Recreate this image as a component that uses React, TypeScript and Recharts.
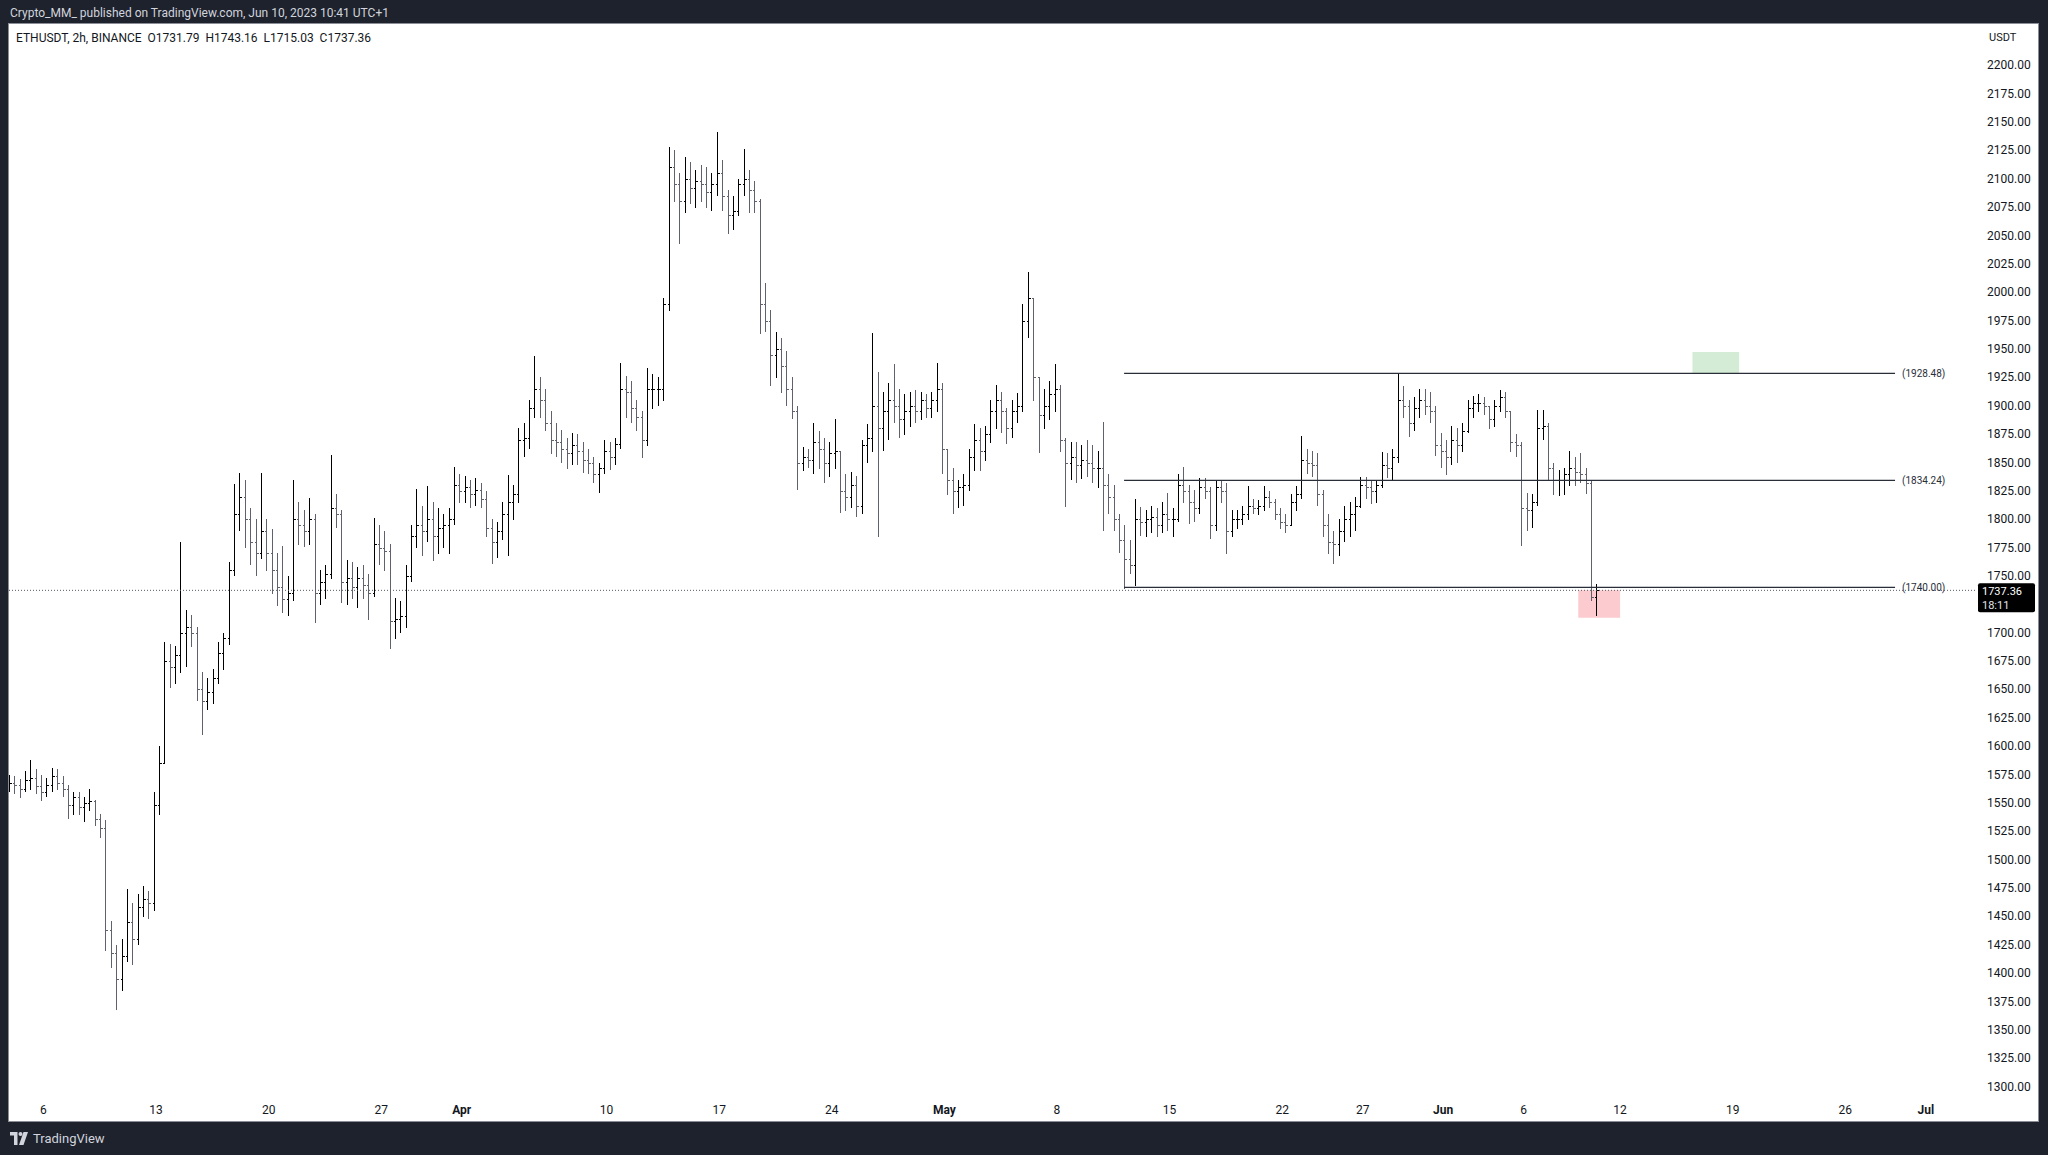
import { ComposedChart, Bar, XAxis, YAxis, ReferenceLine, ReferenceArea } from "recharts"

// ETHUSDT 8h OHLC bars. Day 0 = Mar 6 00:00.
// First bar opens Mar 3 16:00; one row per day (3 bars: 00h, 08h, 16h).
const firstBarDay = -7 / 3
const barDays = 1 / 3
const firstOpen = 1565

const highs = [
  1575, // Mar 3
  1574, 1571, 1578,
  1588, 1580, 1575,
  1572, 1581, 1580, // Mar 6
  1574, 1566, 1560,
  1560, 1555, 1562,
  1553, 1540, 1535,
  1446, 1425, 1430, // Mar 10
  1474, 1462, 1470,
  1477, 1472, 1560,
  1600, 1692, 1690, // Mar 13
  1688, 1780, 1720,
  1716, 1705, 1665,
  1660, 1668, 1692,
  1700, 1762, 1831,
  1841, 1835, 1810,
  1800, 1841, 1800,
  1791, 1770, 1776, // Mar 20
  1750, 1835, 1815,
  1808, 1819, 1805,
  1755, 1760, 1857,
  1822, 1808, 1764,
  1762, 1758, 1760,
  1752, 1801, 1795,
  1790, 1778, 1731, // Mar 27
  1728, 1760, 1795,
  1827, 1812, 1829,
  1815, 1810, 1805,
  1810, 1846, 1840,
  1838, 1835, 1836, // Apr 1
  1832, 1825, 1800,
  1798, 1815, 1839,
  1830, 1880, 1885,
  1905, 1944, 1925,
  1915, 1895, 1885,
  1879, 1872, 1876,
  1875, 1868, 1862,
  1855, 1850, 1870,
  1868, 1872, 1938, // Apr 10
  1926, 1922, 1905,
  1895, 1933, 1928,
  1925, 1995, 2128,
  2125, 2105, 2119,
  2115, 2108, 2112,
  2110, 2105, 2141,
  2117, 2090, 2085, // Apr 17
  2100, 2126, 2108,
  2098, 2082, 2008,
  1984, 1965, 1960,
  1948, 1925, 1900,
  1864, 1862, 1885,
  1878, 1872, 1868,
  1888, 1852, 1840, // Apr 24
  1842, 1838, 1870,
  1884, 1964, 1930,
  1912, 1920, 1937,
  1915, 1910, 1912,
  1914, 1912, 1910,
  1912, 1938, 1920,
  1850, 1845, 1835, // May 1
  1840, 1862, 1884,
  1880, 1882, 1905,
  1918, 1912, 1898,
  1905, 1911, 1990,
  2018, 1995, 1925,
  1915, 1922, 1937,
  1918, 1872, 1868, // May 8
  1868, 1865, 1870,
  1865, 1860, 1886,
  1840, 1830, 1805,
  1795, 1782, 1818,
  1811, 1808, 1812,
  1810, 1815, 1823,
  1810, 1840, 1846, // May 15
  1830, 1826, 1836,
  1836, 1828, 1834,
  1834, 1832, 1808,
  1808, 1812, 1829,
  1818, 1817, 1829,
  1825, 1818, 1810,
  1805, 1822, 1829, // May 22
  1873, 1862, 1860,
  1858, 1826, 1805,
  1790, 1800, 1812,
  1815, 1820, 1837,
  1837, 1835, 1834,
  1859, 1858, 1862,
  1928.48, 1917, 1905, // May 29
  1908, 1915, 1915,
  1912, 1900, 1876,
  1870, 1882, 1880, // Jun 1
  1885, 1905, 1909,
  1910, 1908, 1900,
  1905, 1914, 1912,
  1895, 1875, 1868,
  1823, 1822, 1896,
  1896, 1885, 1850,
  1843, 1845, 1860,
  1855, 1858, 1845,
  1835, 1743.16, // Jun 10
]

const lows = [
  1560,
  1558, 1555, 1560,
  1562, 1558, 1552,
  1556, 1560, 1562,
  1556, 1536, 1540,
  1540, 1534, 1543,
  1530, 1520, 1420,
  1405, 1368, 1385,
  1410, 1408, 1425,
  1450, 1448, 1455,
  1540, 1590, 1652,
  1655, 1665, 1670,
  1688, 1640, 1610,
  1632, 1638, 1655,
  1668, 1690, 1750,
  1790, 1775, 1760,
  1750, 1765, 1755,
  1735, 1724, 1718,
  1715, 1728, 1778,
  1776, 1778, 1709,
  1725, 1730, 1748,
  1793, 1727, 1725,
  1730, 1722, 1730,
  1712, 1732, 1760,
  1755, 1686, 1695,
  1700, 1705, 1745,
  1775, 1768, 1780,
  1764, 1770, 1775,
  1770, 1795, 1815,
  1815, 1810, 1812,
  1810, 1785, 1761,
  1766, 1782, 1768,
  1800, 1815, 1855,
  1862, 1890, 1890,
  1878, 1858, 1855,
  1850, 1845, 1848,
  1848, 1841, 1840,
  1832, 1824, 1840,
  1844, 1848, 1862,
  1890, 1885, 1878,
  1854, 1865, 1898,
  1900, 1905, 1984,
  2080, 2043, 2070,
  2078, 2075, 2080,
  2075, 2072, 2085,
  2072, 2052, 2055,
  2068, 2085, 2070,
  2070, 1964, 1965,
  1918, 1925, 1912,
  1900, 1889, 1826,
  1843, 1846, 1840,
  1845, 1832, 1838,
  1845, 1806, 1808,
  1810, 1802, 1805,
  1850, 1860, 1785,
  1861, 1870, 1885,
  1872, 1875, 1882,
  1885, 1888, 1890,
  1890, 1895, 1840,
  1822, 1805, 1810,
  1812, 1825, 1843,
  1843, 1852, 1868,
  1880, 1876, 1867,
  1872, 1885, 1895,
  1960, 1905, 1859,
  1880, 1888, 1895,
  1860, 1811, 1835,
  1832, 1836, 1838,
  1832, 1828, 1790,
  1805, 1790, 1771,
  1739, 1752, 1742,
  1786, 1785, 1788,
  1785, 1788, 1790,
  1785, 1798, 1815,
  1796, 1798, 1805,
  1818, 1783, 1790,
  1815, 1770, 1785,
  1792, 1795, 1800,
  1805, 1804, 1808,
  1810, 1800, 1792,
  1788, 1795, 1808,
  1818, 1840, 1838,
  1812, 1785, 1770,
  1761, 1768, 1780,
  1785, 1790, 1810,
  1818, 1814, 1815,
  1828, 1837, 1835,
  1850, 1890, 1873,
  1878, 1890, 1892,
  1885, 1856, 1846,
  1839, 1848, 1850,
  1860, 1876, 1890,
  1895, 1892, 1880,
  1882, 1895, 1890,
  1860, 1855, 1777,
  1790, 1793, 1812,
  1870, 1835, 1822,
  1821, 1822, 1830,
  1830, 1832, 1823,
  1728, 1715.03,
]

const closes = [
  1568,
  1566, 1562, 1570,
  1572, 1565, 1560,
  1566, 1574, 1568,
  1562, 1548, 1555,
  1546, 1550, 1552,
  1536, 1528, 1438,
  1418, 1395, 1415,
  1445, 1430, 1458,
  1465, 1462, 1548,
  1585, 1675, 1670,
  1680, 1700, 1705,
  1700, 1650, 1640,
  1648, 1660, 1682,
  1695, 1755, 1805,
  1820, 1800, 1780,
  1770, 1790, 1770,
  1755, 1740, 1730,
  1735, 1800, 1795,
  1790, 1800, 1735,
  1745, 1752, 1810,
  1805, 1745, 1748,
  1740, 1748, 1742,
  1735, 1778, 1775,
  1772, 1710, 1712,
  1715, 1750, 1785,
  1795, 1790, 1800,
  1785, 1792, 1795,
  1800, 1830, 1825,
  1828, 1822, 1826,
  1818, 1792, 1780,
  1790, 1805, 1815,
  1822, 1870, 1872,
  1898, 1915, 1905,
  1885, 1870, 1868,
  1862, 1858, 1865,
  1860, 1852, 1850,
  1840, 1845, 1860,
  1855, 1866, 1915,
  1912, 1898, 1890,
  1870, 1915, 1915,
  1915, 1990, 2110,
  2095, 2080, 2100,
  2092, 2098, 2095,
  2088, 2095, 2105,
  2085, 2068, 2072,
  2095, 2100, 2090,
  2080, 1990, 1975,
  1945, 1950, 1935,
  1915, 1895, 1850,
  1855, 1852, 1868,
  1862, 1850, 1858,
  1860, 1825, 1820,
  1830, 1812, 1865,
  1872, 1900, 1880,
  1895, 1905, 1900,
  1888, 1895, 1900,
  1895, 1905, 1898,
  1905, 1915, 1862,
  1835, 1825, 1828,
  1830, 1855, 1870,
  1860, 1875, 1895,
  1905, 1895, 1880,
  1895, 1900, 1975,
  1995, 1925, 1892,
  1900, 1910, 1915,
  1870, 1850, 1855,
  1848, 1852, 1850,
  1845, 1845, 1830,
  1820, 1800, 1782,
  1765, 1760, 1800,
  1798, 1800, 1802,
  1795, 1805, 1800,
  1800, 1830, 1825,
  1815, 1810, 1828,
  1825, 1795, 1828,
  1825, 1790, 1800,
  1800, 1805, 1812,
  1810, 1812, 1820,
  1815, 1805, 1798,
  1795, 1815, 1822,
  1852, 1850, 1848,
  1822, 1795, 1780,
  1778, 1790, 1800,
  1805, 1812, 1830,
  1828, 1825, 1830,
  1848, 1845, 1855,
  1905, 1900, 1885,
  1898, 1905, 1900,
  1895, 1865, 1860,
  1855, 1870, 1865,
  1878, 1898, 1902,
  1902, 1900, 1888,
  1900, 1908, 1895,
  1868, 1865, 1810,
  1808, 1815, 1880,
  1882, 1845, 1835,
  1835, 1840, 1845,
  1842, 1840, 1832,
  1731.79, 1737.36,
]

// time axis: day offsets from Mar 6 and their labels
const dayTicks = [0, 7, 14, 21, 26, 35, 42, 49, 56, 63, 70, 77, 82, 87, 92, 98, 105, 112, 117]
const dayLabels = ["6", "13", "20", "27", "Apr", "10", "17", "24", "May", "8", "15", "22", "27", "Jun", "6", "12", "19", "26", "Jul"]
const monthLabels = ["Apr", "May", "Jun", "Jul"]

// 1725.00 sits under the last-price tag in the original, so it is not listed
const priceTicks = [
  1300, 1325, 1350, 1375, 1400, 1425, 1450, 1475, 1500, 1525, 1550, 1575,
  1600, 1625, 1650, 1675, 1700, 1750, 1775, 1800, 1825, 1850, 1875,
  1900, 1925, 1950, 1975, 2000, 2025, 2050, 2075, 2100, 2125, 2150, 2175, 2200,
]

// horizontal levels drawn from May 12 to late June
const levels = [1928.48, 1834.24, 1740.0]
const levelStart = 67.17
const levelEnd = 115.09

const lastPrice = 1737.36
const countdown = "18:11"

const targetZone = { x1: 102.5, x2: 105.4, y1: 1928.5, y2: 1947.4 }
const stopZone = { x1: 95.4, x2: 98.0, y1: 1713.2, y2: 1737.5 }

const UP = "#000000"
const DOWN = "#5f626c"
const FONT = "Roboto, 'Liberation Sans', sans-serif"

const bars = closes.map((c, i) => {
  const o = i === 0 ? firstOpen : closes[i - 1]
  const h = Math.max(highs[i], o, c)
  const l = Math.min(lows[i], o, c)
  return { t: firstBarDay + i * barDays + barDays / 2, o, h, l, c, range: [l, h] }
})

function OhlcBar(props: any) {
  const { x, y, width, height, payload } = props
  if (x == null || y == null || !payload) return null
  const top = Math.min(y, y + height)
  const bot = Math.max(y, y + height)
  const span = payload.h - payload.l || 1
  const yOf = (v: number) => Math.round(top + ((payload.h - v) / span) * (bot - top)) + 0.5
  const cx = Math.round(x + width / 2) + 0.5
  const color = payload.c >= payload.o ? UP : DOWN
  return (
    <g stroke={color} strokeWidth={1} shapeRendering="crispEdges">
      <line x1={cx} x2={cx} y1={top} y2={bot + 0.5} />
      <line x1={cx - 2} x2={cx} y1={yOf(payload.o)} y2={yOf(payload.o)} />
      <line x1={cx} x2={cx + 2} y1={yOf(payload.c)} y2={yOf(payload.c)} />
    </g>
  )
}

function TimeTick(props: any) {
  const { x, y, payload } = props
  const label = dayLabels[dayTicks.indexOf(payload.value)]
  return (
    <text x={x} y={y + 13} textAnchor="middle" dominantBaseline="central" fontSize={12} fontFamily={FONT}
      fill="#131722" fontWeight={monthLabels.includes(label) ? 700 : 400}>
      {label}
    </text>
  )
}

function PriceTick(props: any) {
  const { x, y, payload } = props
  return (
    <text x={x + 12} y={y} textAnchor="start" dominantBaseline="central" fontSize={12} fontFamily={FONT} fill="#131722">
      {payload.value.toFixed(2)}
    </text>
  )
}

function LevelLabel(props: any) {
  const { viewBox, value } = props
  if (!viewBox) return null
  return (
    <text x={viewBox.x + viewBox.width + 7} y={viewBox.y} dominantBaseline="central" fontSize={10}
      fontFamily={FONT} fill="#2a2e39">
      {value}
    </text>
  )
}

function PriceTag(props: any) {
  const { viewBox } = props
  if (!viewBox) return null
  const x = viewBox.x + viewBox.width + 3
  const y = viewBox.y
  return (
    <g>
      <rect x={x} y={y - 7} width={57} height={29} rx={2} fill="#000" />
      <text x={x + 4} y={y + 1} dominantBaseline="central" fontSize={11} fontFamily={FONT} fill="#fff">
        {lastPrice.toFixed(2)}
      </text>
      <text x={x + 4} y={y + 15} dominantBaseline="central" fontSize={11} fontFamily={FONT} fill="#e0e3eb">
        {countdown}
      </text>
    </g>
  )
}

function Logo() {
  return (
    <svg width={18} height={13} viewBox="0 0 36 26">
      <path d="M0 0H15V26H8V7H0Z" fill="#d1d4dc" />
      <circle cx={21} cy={4} r={4} fill="#d1d4dc" />
      <path d="M27 0H36L27 26H18Z" fill="#d1d4dc" />
    </svg>
  )
}

export default function App() {
  return (
    <div style={{ position: "absolute", left: 0, top: 0, width: 2048, height: 1155, background: "#1e222d",
      overflow: "hidden", fontFamily: FONT }}>
      <div style={{ position: "absolute", left: 10, top: 5, fontSize: 12, lineHeight: "16px", color: "#d1d4dc" }}>
        Crypto_MM_ published on TradingView.com, Jun 10, 2023 10:41 UTC+1
      </div>

      <div style={{ position: "absolute", left: 9, top: 24, width: 2029, height: 1097, background: "#fff",
        boxShadow: "0 0 0 1px #8b8e97" }}>
        <ComposedChart width={2029} height={1097} data={bars} margin={{ top: 0, right: 0, bottom: 0, left: 0 }}>
          <XAxis dataKey="t" type="number" domain={[-2.14, 120.06]} allowDataOverflow ticks={dayTicks}
            interval={0} height={24} axisLine={false} tickLine={false} tickSize={0} tickMargin={0}
            tick={<TimeTick />} />
          <YAxis orientation="right" width={63} domain={[1290.9, 2236.4]} allowDataOverflow ticks={priceTicks}
            interval={0} axisLine={false} tickLine={false} tickSize={0} tickMargin={0} tick={<PriceTick />} />
          <ReferenceArea x1={targetZone.x1} x2={targetZone.x2} y1={targetZone.y1} y2={targetZone.y2}
            fill="#4caf50" fillOpacity={0.24} stroke="none" />
          <ReferenceArea x1={stopZone.x1} x2={stopZone.x2} y1={stopZone.y1} y2={stopZone.y2}
            fill="#f23645" fillOpacity={0.26} stroke="none" />
          {levels.map((lv) => (
            <ReferenceLine key={lv} segment={[{ x: levelStart, y: lv }, { x: levelEnd, y: lv }]}
              stroke="#2a2e39" strokeWidth={1.2}
              label={<LevelLabel value={`(${lv.toFixed(2)})`} />} />
          ))}
          <ReferenceLine y={lastPrice} stroke="#555862" strokeDasharray="1 2" strokeWidth={1}
            label={<PriceTag />} />
          <Bar dataKey="range" barSize={4} isAnimationActive={false} shape={<OhlcBar />} />
        </ComposedChart>

        <div style={{ position: "absolute", left: 7, top: 6, fontSize: 12, lineHeight: "16px", color: "#131722",
          whiteSpace: "pre" }}>
          {"ETHUSDT, 2h, BINANCE  O1731.79  H1743.16  L1715.03  C1737.36"}
        </div>
        <div style={{ position: "absolute", left: 1980, top: 6, fontSize: 11, lineHeight: "16px", color: "#131722" }}>
          USDT
        </div>
      </div>

      <div style={{ position: "absolute", left: 10, top: 1131, display: "flex", alignItems: "center", gap: 5,
        color: "#d1d4dc", fontSize: 13 }}>
        <Logo />
        <span>TradingView</span>
      </div>
    </div>
  )
}
